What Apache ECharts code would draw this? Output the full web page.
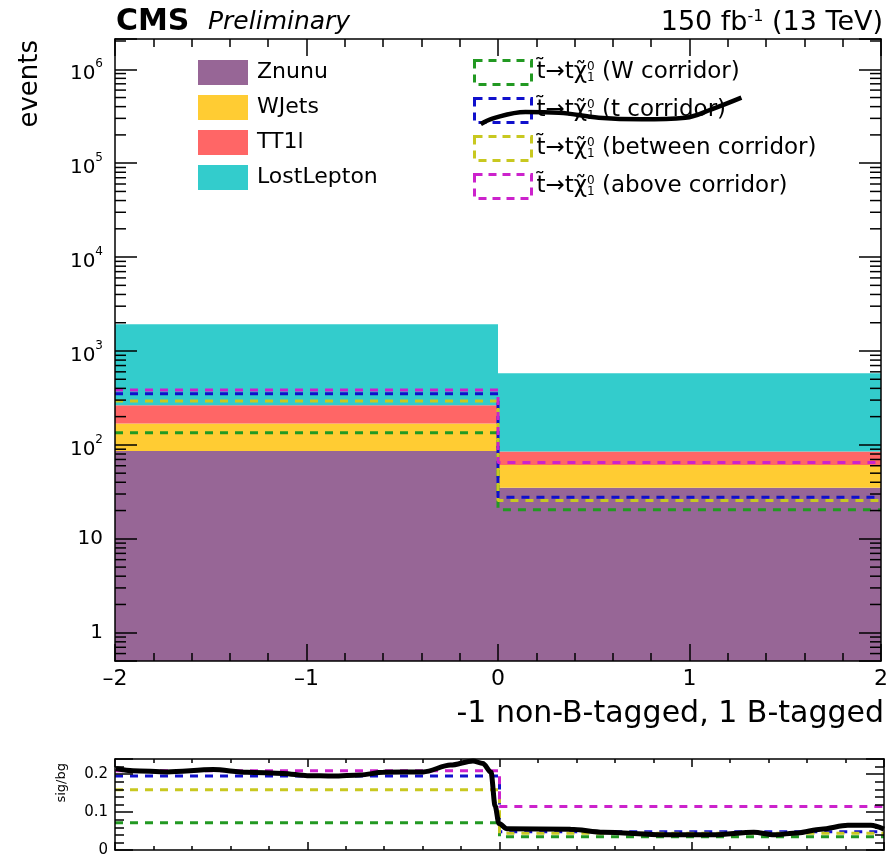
<!DOCTYPE html>
<html><head><meta charset="utf-8">
<script src="https://cdn.jsdelivr.net/npm/echarts@6/dist/echarts.min.js"></script>
<style>html,body{margin:0;padding:0;background:#fff}#c{width:891px;height:859px}</style>
</head><body><div id="c"></div>
<script>
// ---------------- data ----------------
const binEdges = [-2, 0, 2];
const bgNames = ['Znunu', 'WJets', 'TT1l', 'LostLepton'];
const znunu = [86, 35];
const wjets = [83, 26];
const tt1l = [95, 24];
const lostLepton = [1660, 493];

const sigNames = ['W corridor', 't corridor', 'between corridor', 'above corridor'];
const sigW = [135, 20.4];
const sigT = [351, 27.7];
const sigBetween = [294, 25.6];
const sigAbove = [385, 65];

const ratioW = [0.072, 0.035];
const ratioT = [0.195, 0.048];
const ratioBetween = [0.159, 0.044];
const ratioAbove = [0.209, 0.115];

// hand-drawn black curves
const sketchMainX = [-0.09, -0.03, 0.144, 0.318, 0.526, 0.75, 0.978, 1.115, 1.271];
const sketchMainY = [2.6e5, 2.98e5, 3.51e5, 3.45e5, 3.05e5, 2.93e5, 3.05e5, 3.75e5, 4.99e5];
const sketchRatioX = [-1.995,-1.906,-1.729,-1.49,-1.313,-1.125,-1.0,-0.865,-0.724,-0.604,-0.396,-0.255,-0.138,-0.086,-0.044,-0.023,-0.003,0.039,0.37,0.54,0.854,1.115,1.323,1.427,1.552,1.672,1.812,1.932,2.0];
const sketchRatioY = [0.215,0.209,0.206,0.212,0.205,0.202,0.196,0.195,0.198,0.205,0.206,0.224,0.235,0.228,0.205,0.117,0.07,0.056,0.055,0.047,0.040,0.040,0.047,0.040,0.045,0.055,0.065,0.065,0.055];

const xTickLabels = ['–2', '–1', '0', '1', '2'];

// ---------------- styling ----------------
const FONT = 'DejaVu Sans';
const bgColors = ['#976696', '#ffcc33', '#ff6666', '#33cccc'];
const sigColors = ['#229922', '#1010cc', '#c8c820', '#cc22cc'];
const Y_MIN = 0.5, Y_MAX = 2.1e6;
const MAIN = {left: 115, right: 7, top: 39, height: 622};
const RAT = {left: 115, right: 7, top: 759, height: 91};

// stacked rectangles
const bgArrays = [znunu, wjets, tt1l, lostLepton];
const cum = [0, 0];
const bgSeries = bgArrays.map((arr, k) => {
  const data = arr.map((v, i) => {
    const base = k === 0 ? Y_MIN : cum[i];
    cum[i] += v;
    return [binEdges[i], binEdges[i + 1], base, cum[i]];
  });
  return {
    type: 'custom', name: bgNames[k], xAxisIndex: 0, yAxisIndex: 0, z: 2,
    itemStyle: {color: bgColors[k]},
    encode: {x: [0, 1], y: [2, 3]},
    data: data,
    renderItem: function (params, api) {
      const p0 = api.coord([api.value(0), api.value(3)]);
      const p1 = api.coord([api.value(1), api.value(2)]);
      return {type: 'rect', shape: {x: p0[0], y: p0[1], width: p1[0] - p0[0], height: p1[1] - p0[1]},
        style: {fill: api.visual('color')}};
    }
  };
});

function stepData(arr) {
  const d = arr.map((v, i) => [binEdges[i], v]);
  d.push([binEdges[binEdges.length - 1], arr[arr.length - 1]]);
  return d;
}
const sigArrays = [sigW, sigT, sigBetween, sigAbove];
const ratArrays = [ratioW, ratioT, ratioBetween, ratioAbove];
const sigSeries = sigArrays.map((arr, k) => ({
  type: 'line', name: sigNames[k], xAxisIndex: 0, yAxisIndex: 0, z: 3, step: 'end',
  showSymbol: false, symbol: 'none', color: sigColors[k],
  lineStyle: {color: sigColors[k], width: 3, type: [8, 7]},
  data: stepData(arr)
}));
const ratSeries = ratArrays.map((arr, k) => ({
  type: 'line', name: sigNames[k], xAxisIndex: 2, yAxisIndex: 2, z: 3, step: 'end',
  showSymbol: false, symbol: 'none', color: sigColors[k],
  lineStyle: {color: sigColors[k], width: 3, type: [8, 7]},
  data: stepData(arr)
}));

// log minor ticks (axis decoration)
const minorLog = [];
[-1, 0, 1, 2, 3, 4, 5, 6].forEach(e => {
  [2, 3, 4, 5, 6, 7, 8, 9].forEach(m => {
    const v = m * Math.pow(10, e);
    if (v > Y_MIN && v < Y_MAX) minorLog.push([-2, v]);
  });
});
const minorTickSeries = {
  type: 'custom', xAxisIndex: 0, yAxisIndex: 0, z: 12, silent: true,
  encode: {x: 0, y: 1}, data: minorLog,
  renderItem: function (params, api) {
    const pl = api.coord([-2, api.value(1)]);
    const pr = api.coord([2, api.value(1)]);
    return {type: 'group', children: [
      {type: 'line', shape: {x1: pl[0], y1: pl[1], x2: pl[0] + 11, y2: pl[1]}, style: {stroke: '#000', lineWidth: 1.5}},
      {type: 'line', shape: {x1: pr[0] - 11, y1: pr[1], x2: pr[0], y2: pr[1]}, style: {stroke: '#000', lineWidth: 1.5}}
    ]};
  }
};

const sketchMain = {
  type: 'line', xAxisIndex: 0, yAxisIndex: 0, z: 6, smooth: 0.4, showSymbol: false, symbol: 'none',
  lineStyle: {color: '#000', width: 4.5}, data: sketchMainX.map((x, i) => [x, sketchMainY[i]])
};
const sketchRatio = {
  type: 'line', xAxisIndex: 2, yAxisIndex: 2, z: 6, smooth: 0.3, smoothMonotone: 'x', showSymbol: false, symbol: 'none',
  lineStyle: {color: '#000', width: 5}, data: sketchRatioX.map((x, i) => [x, sketchRatioY[i]])
};

const axLine = {show: true, onZero: false, lineStyle: {color: '#000', width: 1.5}};
function xAx(grid, pos, showLabel, tickLen, minorLen) {
  return {
    type: 'value', gridIndex: grid, position: pos, min: -2, max: 2, interval: 1, z: 10,
    axisLine: axLine, splitLine: {show: false},
    axisTick: {show: true, inside: true, length: tickLen, lineStyle: {color: '#000', width: 1.5}},
    minorTick: {show: true, splitNumber: 5, length: minorLen, lineStyle: {color: '#000', width: 1.5}},
    axisLabel: showLabel ? {show: true, margin: 7, fontFamily: FONT, fontSize: 22, color: '#000',
      formatter: v => { const i = Math.round(v + 2); return (Math.abs(v - (i - 2)) < 1e-9 && xTickLabels[i] !== undefined) ? xTickLabels[i] : ''; }}
      : {show: false}
  };
}
function logLabel(v) {
  const e = Math.round(Math.log10(v));
  if (Math.abs(Math.log10(v) - e) > 1e-6) return '';
  if (e === 0) return '{p|1}';
  if (e === 1) return '{p|10}';
  return '{b|10}{e|' + e + '}';
}
function yLog(pos, showLabel) {
  return {
    type: 'log', gridIndex: 0, position: pos, min: Y_MIN, max: Y_MAX, logBase: 10, z: 10,
    axisLine: axLine, splitLine: {show: false},
    axisTick: {show: true, inside: true, length: 22, lineStyle: {color: '#000', width: 1.5}},
    minorTick: {show: false},
    axisLabel: showLabel ? {show: true, margin: 12, color: '#000', fontFamily: FONT, formatter: logLabel,
      rich: {
        b: {fontFamily: FONT, fontSize: 20, padding: [10, 0, 0, 0], color: '#000'},
        e: {fontFamily: FONT, fontSize: 12, padding: [4, 0, 0, 0], verticalAlign: 'top', color: '#000'},
        p: {fontFamily: FONT, fontSize: 20, color: '#000'}
      }} : {show: false}
  };
}
function yRat(pos, showLabel) {
  return {
    type: 'value', gridIndex: 1, position: pos, min: 0, max: 0.24, interval: 0.1, z: 10,
    axisLine: axLine, splitLine: {show: false},
    axisTick: {show: true, inside: true, length: 18, lineStyle: {color: '#000', width: 1.5}},
    minorTick: {show: true, splitNumber: 5, length: 9, lineStyle: {color: '#000', width: 1.5}},
    axisLabel: showLabel ? {show: true, margin: 7, fontFamily: FONT, fontSize: 15, color: '#000', showMaxLabel: false,
      formatter: v => (Math.abs(v) < 1e-9 ? '0' : (Math.abs(v - 0.1) < 1e-9 ? '0.1' : (Math.abs(v - 0.2) < 1e-9 ? '0.2' : '')))} : {show: false}
  };
}

const option = {
  animation: false,
  backgroundColor: '#fff',
  title: [
    {text: 'CMS', left: 116, top: 7, padding: 0, textStyle: {fontFamily: FONT, fontWeight: 'bold', fontSize: 30, color: '#000'}},
    {text: 'Preliminary', left: 208, top: 10, padding: 0, textStyle: {fontFamily: FONT, fontStyle: 'italic', fontWeight: 'normal', fontSize: 25, color: '#000'}},
    {text: '{m|150 fb}{s|-1}{m| (13 TeV)}', right: 8, top: 9, padding: 0,
      textStyle: {fontFamily: FONT, fontWeight: 'normal', fontSize: 27, color: '#000',
        rich: {m: {fontFamily: FONT, fontSize: 27, color: '#000'}, s: {fontFamily: FONT, fontSize: 16, verticalAlign: 'top', color: '#000'}}}}
  ],
  grid: [
    {left: MAIN.left, right: MAIN.right, top: MAIN.top, height: MAIN.height, containLabel: false},
    {left: RAT.left, right: RAT.right, top: RAT.top, height: RAT.height, containLabel: false}
  ],
  legend: [
    {orient: 'vertical', left: 198, top: 60, itemWidth: 50, itemHeight: 25, itemGap: 10, padding: 0,
      selectedMode: false, icon: 'rect',
      textStyle: {fontFamily: FONT, fontSize: 22, color: '#000', padding: [0, 0, 0, 4]},
      data: bgNames.map(n => ({name: n}))},
    {orient: 'vertical', left: 473, top: 59, itemWidth: 57, itemHeight: 24, itemGap: 11, padding: 0,
      selectedMode: false,
      textStyle: {fontFamily: FONT, fontSize: 23, color: '#000',
        rich: {
          t: {fontFamily: FONT, fontSize: 23, color: '#000'},
          sup: {fontFamily: FONT, fontSize: 12, width: 0, align: 'left', verticalAlign: 'top', color: '#000'},
          sub: {fontFamily: FONT, fontSize: 12, verticalAlign: 'bottom', color: '#000'}
        }},
      formatter: name => '{t|t\u0303\u2192t\u03c7\u0303}{sup|0}{sub|1}{t| (' + name + ')}',
      data: sigNames.map((n, k) => ({name: n, icon: 'rect',
        itemStyle: {color: 'rgba(0,0,0,0)', borderColor: sigColors[k], borderWidth: 3, borderType: [8, 6]}}))}
  ],
  graphic: [
    {type: 'text', x: 30, y: 40, rotation: Math.PI / 2, z: 20,
      style: {text: 'events', fontFamily: FONT, fontSize: 26, fill: '#000', align: 'right', verticalAlign: 'middle'}},
    {type: 'text', x: 884, y: 699, z: 20,
      style: {text: '-1 non-B-tagged, 1 B-tagged', fontFamily: FONT, fontSize: 30, fill: '#000', align: 'right', verticalAlign: 'top'}},
    {type: 'text', x: 62, y: 763, rotation: Math.PI / 2, z: 20,
      style: {text: 'sig/bg', fontFamily: FONT, fontSize: 13, fill: '#000', align: 'right', verticalAlign: 'middle'}}
  ],
  xAxis: [
    xAx(0, 'bottom', true, 17, 8),
    xAx(0, 'top', false, 17, 8),
    xAx(1, 'bottom', false, 8, 4),
    xAx(1, 'top', false, 8, 4)
  ],
  yAxis: [
    yLog('left', true),
    yLog('right', false),
    yRat('left', true),
    yRat('right', false)
  ],
  series: [].concat(bgSeries, sigSeries, ratSeries, [minorTickSeries, sketchMain, sketchRatio])
};
const chart = echarts.init(document.getElementById('c'), null, {renderer: 'canvas'});
chart.setOption(option);
</script></body></html>
